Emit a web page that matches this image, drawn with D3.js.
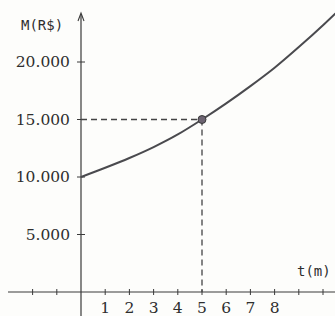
<!DOCTYPE html>
<html>
<head>
<meta charset="utf-8">
<script src="https://cdn.jsdelivr.net/npm/d3@7"></script>
<style>
  html, body { margin: 0; padding: 0; background: #fdfdfb; }
  svg { display: block; }
  .lbl { font-family: "DejaVu Serif", serif; fill: #2e2e2e; }
  .ttl { font-family: "DejaVu Sans Mono", monospace; fill: #2e2e2e; }
</style>
</head>
<body>
<svg id="chart" width="335" height="316"></svg>
<script>
/* values */
const xTicks  = [-2, -1, 1, 2, 3, 4, 5, 6, 7, 8, 9, 10];
const xLabels = [1, 2, 3, 4, 5, 6, 7, 8];
const yTicks  = [5000, 10000, 15000, 20000];
const yLabels = ["5.000", "10.000", "15.000", "20.000"];
const curveT  = [0, 1, 2, 3, 4, 5, 6, 7, 8, 9, 10, 10.6];
const curveM  = [10000, 10800, 11650, 12600, 13700, 15000, 16400, 17900, 19500, 21300, 23200, 24400];
const markT = 5, markM = 15000;

const W = 335, H = 316;
const svg = d3.select("#chart");
const ink = "#3a3a3a";

const x = d3.scaleLinear().domain([0, 10]).range([81, 323]);
const y = d3.scaleLinear().domain([0, 20000]).range([292, 62]);

/* ── axes ── */
svg.append("line").attr("x1", 8).attr("x2", W).attr("y1", y(0)).attr("y2", y(0))
  .attr("stroke", ink).attr("stroke-width", 1.2);
svg.append("line").attr("x1", x(0)).attr("x2", x(0)).attr("y1", H).attr("y2", 14)
  .attr("stroke", ink).attr("stroke-width", 1.2);
svg.append("path")
  .attr("d", `M${x(0) - 3},${21} L${x(0)},${13} L${x(0) + 3},${21}`)
  .attr("fill", "none").attr("stroke", ink).attr("stroke-width", 1.1);

svg.selectAll(".xt").data(xTicks).join("line").attr("class", "xt")
  .attr("x1", d => x(d)).attr("x2", d => x(d))
  .attr("y1", y(0) - 3).attr("y2", y(0) + 3)
  .attr("stroke", ink).attr("stroke-width", 1);
svg.selectAll(".yt").data(yTicks).join("line").attr("class", "yt")
  .attr("x1", x(0) - 4).attr("x2", x(0) + 4)
  .attr("y1", d => y(d)).attr("y2", d => y(d))
  .attr("stroke", ink).attr("stroke-width", 1);

svg.selectAll(".xl").data(xLabels).join("text").attr("class", "lbl xl")
  .attr("x", d => x(d)).attr("y", 313)
  .attr("text-anchor", "middle").attr("font-size", 15.5).text(d => d);
svg.selectAll(".yl").data(yTicks).join("text").attr("class", "lbl yl")
  .attr("x", 70).attr("y", d => y(d) + 5)
  .attr("text-anchor", "end").attr("font-size", 15.5)
  .text((d, i) => yLabels[i]);

svg.append("text").attr("class", "ttl").attr("x", 21).attr("y", 30)
  .attr("font-size", 14).text("M(R$)");
svg.append("text").attr("class", "ttl").attr("x", 297).attr("y", 276)
  .attr("font-size", 14).text("t(m)");

/* ── dashed guides ── */
svg.append("line").attr("x1", x(0)).attr("x2", x(markT))
  .attr("y1", y(markM)).attr("y2", y(markM))
  .attr("stroke", "#444").attr("stroke-width", 1.3).attr("stroke-dasharray", "6,4");
svg.append("line").attr("x1", x(markT)).attr("x2", x(markT))
  .attr("y1", y(markM)).attr("y2", y(0))
  .attr("stroke", "#444").attr("stroke-width", 1.3).attr("stroke-dasharray", "6,4");

/* ── curve ── */
const pts = curveT.map((t, i) => [t, curveM[i]]);
svg.append("path").datum(pts)
  .attr("d", d3.line().x(d => x(d[0])).y(d => y(d[1])).curve(d3.curveMonotoneX))
  .attr("fill", "none").attr("stroke", "#4a4a4e").attr("stroke-width", 2);

svg.append("circle").attr("cx", x(markT)).attr("cy", y(markM)).attr("r", 4)
  .attr("fill", "#6d6472").attr("stroke", "#3a3a3a").attr("stroke-width", 1);
</script>
</body>
</html>
